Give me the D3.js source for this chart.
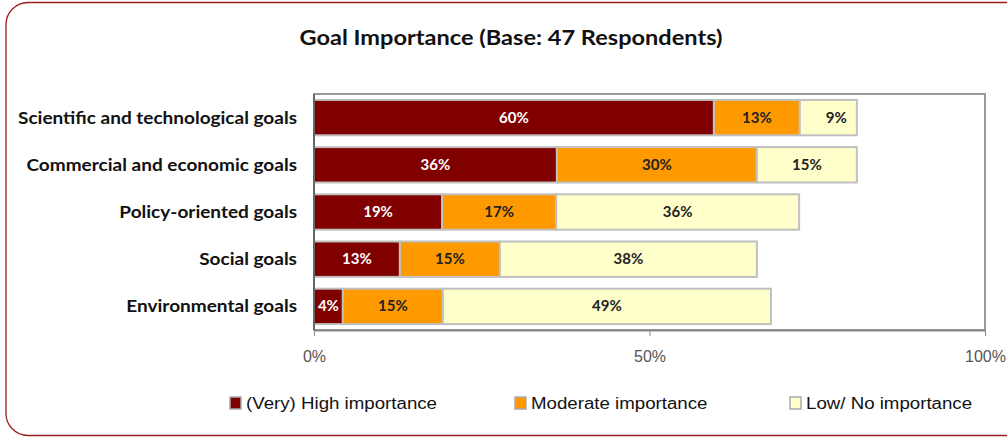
<!DOCTYPE html>
<html><head><meta charset="utf-8">
<script src="https://cdn.jsdelivr.net/npm/d3@7"></script>
<style>body{margin:0;background:#fff}svg{display:block}</style>
</head><body>
<svg id="c" width="1007" height="438"></svg>
<script>
const categories = ["Scientific and technological goals","Commercial and economic goals","Policy-oriented goals","Social goals","Environmental goals"];
const seriesNames = ["(Very) High importance","Moderate importance","Low/ No importance"];
const highValues = [59.6, 36.2, 19.1, 12.8, 4.3];
const moderateValues = [12.8, 29.8, 17.0, 14.9, 14.9];
const lowValues = [8.5, 14.9, 36.2, 38.3, 48.9];
const tickValues = [0, 50, 100];
const tickLabels = ["0%","50%","100%"];
const colors = ["#800000","#FF9900","#FFFFCC"];
const labelColors = ["#ffffff","#222222","#222222"];

const svg = d3.select("#c");
// horizontally widen text to match the reference's wide face
function stretch(sel, factor){
  sel.each(function(){
    const w = this.getComputedTextLength();
    d3.select(this).attr("textLength", w*factor).attr("lengthAdjust","spacingAndGlyphs");
  });
}

svg.append("rect").attr("x",6).attr("y",2.5).attr("width",1030).attr("height",433)
  .attr("rx",22).attr("fill","#fff").attr("stroke","#9b1c1c").attr("stroke-width",1.3);

const title = svg.append("text").attr("x",511).attr("y",45).attr("text-anchor","middle")
  .attr("font-family","Lato, 'Open Sans', sans-serif").attr("font-weight","bold").attr("font-size",20)
  .attr("fill","#111")
  .text("Goal Importance (Base: 47 Respondents)");
{ const w = title.node().getComputedTextLength(); title.attr("textLength",423).attr("lengthAdjust","spacingAndGlyphs"); }

const L=314, R=985, T=94, B=330;
const x = d3.scaleLinear().domain([0,100]).range([L,R]);
const y = d3.scaleBand().domain(categories).range([T,B]).paddingInner(0.25).paddingOuter(0.125);

svg.append("rect").attr("x",L).attr("y",T).attr("width",R-L).attr("height",B-T)
  .attr("fill","none").attr("stroke","#999").attr("stroke-width",2);

const rows = categories.map((c,i)=>({c, vals:[highValues[i],moderateValues[i],lowValues[i]]}));
const stacked = d3.stack().keys([0,1,2]).value((d,k)=>d.vals[k])(rows);

stacked.forEach((layer,k)=>{
  const g = svg.append("g");
  g.selectAll("rect").data(layer).join("rect")
    .attr("x",d=>x(d[0])).attr("y",d=>y(d.data.c))
    .attr("width",d=>x(d[1])-x(d[0])).attr("height",y.bandwidth())
    .attr("fill",colors[k]).attr("stroke","#c0c0c0").attr("stroke-width",2);
  g.selectAll("text").data(layer).join("text")
    .attr("x",d=>(x(d[0])+x(d[1]))/2 + (k===2 && d.data.c===categories[0] ? 8 : 0))
    .attr("y",d=>y(d.data.c)+y.bandwidth()/2+5)
    .attr("text-anchor","middle").attr("fill",labelColors[k])
    .attr("font-family","Lato, 'Open Sans', sans-serif").attr("font-weight","bold").attr("font-size",15)
    .text(d=>Math.round(d[1]-d[0])+"%");
});

// left axis line
svg.append("line").attr("x1",L).attr("x2",L).attr("y1",T).attr("y2",B).attr("stroke","#666").attr("stroke-width",2);
// bottom axis
const xa = svg.append("g").attr("transform",`translate(0,${B})`)
  .call(d3.axisBottom(x).tickValues(tickValues).tickFormat((d,i)=>tickLabels[i]).tickSize(6).tickSizeOuter(0));
xa.select(".domain").attr("stroke","#888").attr("stroke-width",2);
xa.selectAll(".tick line").attr("stroke","#888");
xa.selectAll(".tick text").attr("dy",0).attr("y",32).attr("fill","#555")
  .attr("font-family","'Liberation Sans Narrow','Liberation Sans',Arial,sans-serif").attr("font-size",16);

// category labels
const cat = svg.append("g").selectAll("text").data(categories).join("text")
  .attr("x",297).attr("y",d=>y(d)+y.bandwidth()/2+6).attr("text-anchor","end")
  .attr("font-family","Lato, 'Open Sans', sans-serif").attr("font-weight","bold").attr("font-size",17)
  .attr("fill","#111").text(d=>d);
{ const w0 = cat.node().getComputedTextLength(); stretch(cat, 279/w0); }

// legend
const legX=[230,515,790];
const lg = svg.append("g").selectAll("g").data(seriesNames).join("g")
  .attr("transform",(d,i)=>`translate(${legX[i]},409)`);
lg.append("rect").attr("x",0).attr("y",-12).attr("width",11).attr("height",12)
  .attr("fill",(d,i)=>colors[i]).attr("stroke","#aaa").attr("stroke-width",1.5);
const lt = lg.append("text").attr("x",16).attr("y",0)
  .attr("font-family","'Liberation Sans',Arial,sans-serif").attr("font-size",16)
  .attr("fill","#111").text(d=>d);
{ const w0 = lt.node().getComputedTextLength(); stretch(lt, 191/w0); }
</script>
</body></html>
